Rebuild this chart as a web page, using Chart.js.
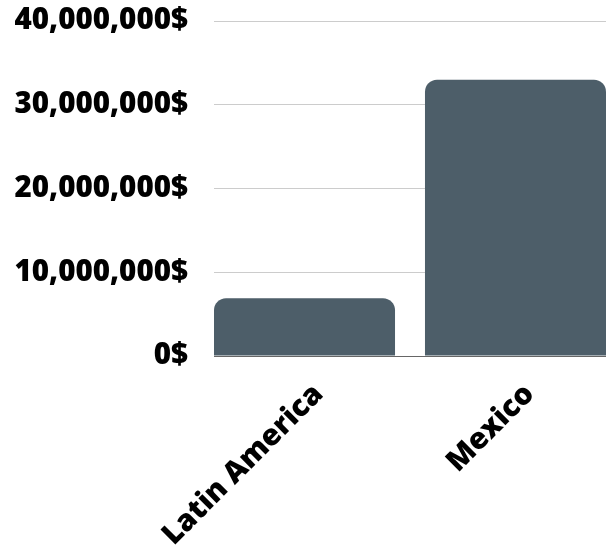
<!DOCTYPE html>
<html>
<head>
<meta charset="utf-8" />
<title>Latin America vs Mexico</title>
<script src="https://cdn.jsdelivr.net/npm/chart.js"></script>
<style>
  body { margin:0; padding:0; background:#fff; }
  #wrap { position:relative; width:606px; height:553px; }
</style>
</head>
<body>
<div id="wrap"><canvas id="chart"></canvas></div>
<script>
const regions = ['Latin America', 'Mexico'];
const amounts = [6900000, 33000000];
const yTicks = [0, 10000000, 20000000, 30000000, 40000000];

function money(v) {
  return v.toLocaleString('en-US') + '$';
}

const labelFont = { family: 'Open Sans', size: 29.5, weight: 800 };

const ctx = document.getElementById('chart').getContext('2d');
new Chart(ctx, {
  type: 'bar',
  data: {
    datasets: [{
      data: amounts.map((v, i) => ({ x: i, y: v })),
      backgroundColor: '#4d5e69',
      borderRadius: { topLeft: 12, topRight: 12 },
      borderSkipped: 'bottom',
      categoryPercentage: 1,
      barPercentage: 0.858
    }]
  },
  options: {
    responsive: true,
    maintainAspectRatio: false,
    animation: false,
    layout: { padding: { top: 21, right: 0, left: 0, bottom: 0 } },
    plugins: { legend: { display: false }, tooltip: { enabled: false } },
    scales: {
      x: {
        type: 'linear',
        offset: false,
        min: -0.429,
        max: 1.429,
        grid: { display: false },
        border: { color: '#666', width: 1 },
        afterFit: s => { s.height = 197; s.paddingLeft = 0; s.paddingRight = 0; },
        ticks: {
          stepSize: 1,
          includeBounds: false,
          autoSkip: false,
          color: '#000',
          font: labelFont,
          maxRotation: 45,
          minRotation: 45,
          padding: 13,
          labelOffset: 14,
          callback: v => regions[v]
        }
      },
      y: {
        min: 0,
        max: 40000000,
        afterBuildTicks: axis => { axis.ticks = yTicks.map(v => ({ value: v })); },
        afterFit: s => { s.width = 214; s.paddingTop = 0; s.paddingBottom = 0; },
        grid: { color: '#cccccc', drawTicks: false },
        border: { display: false },
        ticks: {
          color: '#000',
          font: labelFont,
          padding: 26,
          callback: v => money(v)
        }
      }
    }
  }
});
</script>
</body>
</html>
